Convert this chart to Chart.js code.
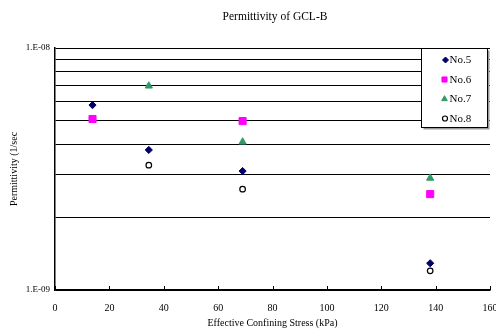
<!DOCTYPE html>
<html>
<head>
<meta charset="utf-8">
<script src="https://cdn.jsdelivr.net/npm/chart.js@4/dist/chart.umd.min.js"></script>
<style>
html,body{margin:0;padding:0;background:#fff;}
#wrap{width:496px;height:329px;}
</style>
</head>
<body>
<div id="wrap"><canvas id="c" width="496" height="329"></canvas></div>
<script>
const stress = [13.8, 34.5, 69, 138];
const no5 = [5.81e-9, 3.79e-9, 3.10e-9, 1.29e-9];
const no6 = [5.09e-9, null, 4.99e-9, 2.49e-9];
const no7 = [null, 6.97e-9, 4.09e-9, 2.90e-9];
const no8 = [null, 3.28e-9, 2.61e-9, 1.20e-9];
const seriesNames = ['No.5', 'No.6', 'No.7', 'No.8'];
const xTicks = [0, 20, 40, 60, 80, 100, 120, 140, 160];
const yTicks = [1e-9, 2e-9, 3e-9, 4e-9, 5e-9, 6e-9, 7e-9, 8e-9, 9e-9, 1e-8];
const yTickLabels = ['1.E-09', '', '', '', '', '', '', '', '', '1.E-08'];

function pts(arr){
  const out = [];
  arr.forEach((v,i)=>{ if (v !== null) out.push({x: stress[i], y: v}); });
  return out;
}
const FONT = '"Liberation Serif", "Times New Roman", serif';
const legendRadius = [3, 3.6, 3.3, 2.5];
const legendMarkerX = [445.5, 444.5, 444.5, 445];

const decorPlugin = {
  id: 'decor',
  afterDraw(chart){
    const ctx = chart.ctx;
    const ca = chart.chartArea;
    ctx.save();
    // title
    ctx.fillStyle = '#000';
    ctx.font = '11.5px ' + FONT;
    ctx.textAlign = 'center';
    ctx.textBaseline = 'middle';
    ctx.fillText('Permittivity of GCL-B', 275, 17);
    // x tick marks (inward)
    const xs = chart.scales.x;
    ctx.strokeStyle = '#000';
    ctx.lineWidth = 1;
    xTicks.forEach(t => {
      const px = Math.round(xs.getPixelForValue(t)) + 0.5;
      ctx.beginPath();
      ctx.moveTo(px, ca.bottom);
      ctx.lineTo(px, ca.bottom - 4);
      ctx.stroke();
    });
    // legend box
    const bx = 421.5, by = 48.5, bw = 66, bh = 79;
    ctx.fillStyle = '#999';
    ctx.fillRect(bx + 2, by + 2, bw, bh);
    ctx.fillStyle = '#fff';
    ctx.fillRect(bx, by, bw, bh);
    ctx.strokeStyle = '#000';
    ctx.lineWidth = 1;
    ctx.strokeRect(bx, by, bw, bh);
    ctx.restore();
    chart.data.datasets.forEach((ds, i) => {
      const y = 60 + i * 19.5;
      ctx.save();
      ctx.fillStyle = ds.pointBackgroundColor;
      ctx.strokeStyle = ds.pointBorderColor;
      ctx.lineWidth = ds.pointBorderWidth;
      Chart.helpers.drawPoint(ctx, {
        pointStyle: ds.pointStyle,
        radius: legendRadius[i],
        borderWidth: ds.pointBorderWidth,
        rotation: 0
      }, legendMarkerX[i], y);
      ctx.fillStyle = '#000';
      ctx.font = '11px ' + FONT;
      ctx.textAlign = 'left';
      ctx.textBaseline = 'middle';
      ctx.fillText(ds.label, 449.5, y + 0.5);
      ctx.restore();
    });
  }
};

const styles = [
  {pointStyle: 'rectRot', pointRadius: 3.6, pointBackgroundColor: '#000066', pointBorderColor: '#000066', pointBorderWidth: 1},
  {pointStyle: 'rect', pointRadius: 5, pointBackgroundColor: '#ff00ff', pointBorderColor: '#ff00ff', pointBorderWidth: 1},
  {pointStyle: 'triangle', pointRadius: 4.2, pointBackgroundColor: '#339966', pointBorderColor: '#339966', pointBorderWidth: 1},
  {pointStyle: 'circle', pointRadius: 2.8, pointBackgroundColor: '#ffffff', pointBorderColor: '#000000', pointBorderWidth: 1.2}
];
const allData = [no5, no6, no7, no8];

new Chart(document.getElementById('c'), {
  type: 'scatter',
  data: {
    datasets: allData.map((arr, i) => Object.assign({
      label: seriesNames[i],
      data: pts(arr),
      showLine: false,
      pointHoverRadius: styles[i].pointRadius
    }, styles[i]))
  },
  options: {
    responsive: false,
    animation: false,
    events: [],
    layout: {padding: {top: 48, right: 6, left: 0, bottom: 0}},
    plugins: {legend: {display: false}, title: {display: false}, tooltip: {enabled: false}},
    scales: {
      x: {
        type: 'linear', min: 0, max: 160,
        border: {display: true, color: '#000', width: 1.5},
        grid: {display: false},
        afterBuildTicks(s){ s.ticks = xTicks.map(v => ({value: v})); },
        ticks: {font: {family: FONT, size: 10}, color: '#000', padding: 4, maxRotation: 0, autoSkip: false},
        title: {display: true, text: 'Effective Confining Stress (kPa)', font: {family: FONT, size: 10}, color: '#000', padding: {top: 3, bottom: 0}},
        afterFit(s){ s.height = 39; s.paddingLeft = 0; s.paddingRight = 0; }
      },
      y: {
        type: 'logarithmic', min: 1e-9, max: 1e-8,
        border: {display: true, color: '#000', width: 1.5},
        grid: {color: '#000', lineWidth: 1, drawTicks: false},
        afterBuildTicks(s){ s.ticks = yTicks.map(v => ({value: v})); },
        ticks: {
          font: {family: FONT, size: 9}, color: '#000', padding: 5, autoSkip: false,
          callback(v, i){ return yTickLabels[i]; }
        },
        title: {display: true, text: 'Permittivity (1/sec', font: {family: FONT, size: 10}, color: '#000', padding: {top: 8, bottom: 0}},
        afterFit(s){ s.width = 55; s.paddingTop = 0; s.paddingBottom = 0; }
      }
    }
  },
  plugins: [decorPlugin]
});
</script>
</body>
</html>
